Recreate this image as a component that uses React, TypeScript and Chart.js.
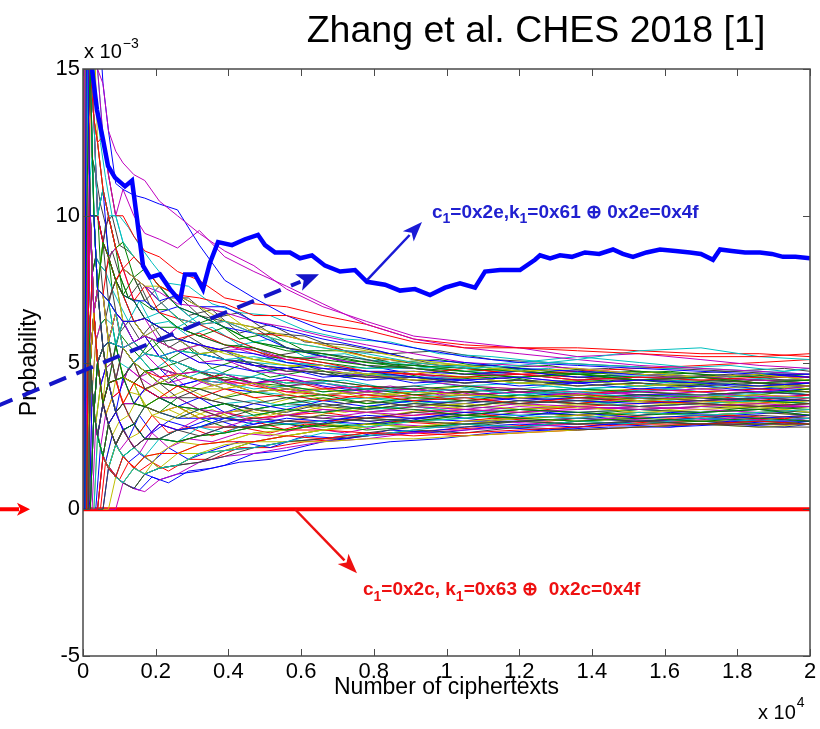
import React, { useEffect, useRef } from "react";
import { Chart, registerables } from "chart.js";

Chart.register(...registerables);

// ---------- data (probability in units of 1e-3, x in ciphertexts) ----------
const xTickValues = [0, 2000, 4000, 6000, 8000, 10000, 12000, 14000, 16000, 18000, 20000];
const yTickValues = [-5, 0, 5, 10, 15];

const sampleN = [0, 50, 100, 150, 200, 300, 400, 550, 700, 900, 1100, 1400, 1700, 2100, 2600, 3200, 3900, 4700, 5600, 6600, 7800, 9100, 10500, 12000, 13600, 15300, 17000, 18600, 20000];
const sampleN2 = [0, 80, 130, 180, 250, 350, 480, 620, 800, 1000, 1250, 1550, 1900, 2350, 2900, 3550, 4300, 5150, 6100, 7200, 8450, 9800, 11250, 12800, 14450, 16150, 17800, 19300, 20000];

// wrong key guesses read at sampleN
const guessB1 = [0, 0, 20, 13.3, 10, 10, 7.5, 7.3, 7.1, 6.7, 6.4, 6.4, 6.5, 6.2, 5.8, 5.6, 5.4, 5.3, 5.0, 4.8, 4.7, 4.5, 4.4, 4.5, 4.3, 4.4, 4.3, 4.2, 4.3];
const guessB2 = [0, 0, 10, 13.3, 15, 10, 7.5, 9.1, 8.6, 7.8, 7.3, 7.1, 6.5, 6.2, 6.2, 5.9, 5.6, 5.5, 5.2, 5.1, 4.9, 4.8, 4.6, 4.5, 4.6, 4.4, 4.5, 4.3, 4.4];
const guessA5 = [0, 0, 0, 6.7, 15, 13.3, 12.5, 10.9, 10, 8.9, 8.2, 8.6, 8.2, 7.6, 7.3, 7.2, 7.0, 6.6, 6.6, 6.3, 6.1, 5.7, 5.5, 5.5, 5.4, 5.3, 5.2, 5.2, 5.3];
const guessA8 = [20, 20, 20, 20, 15, 13.3, 10, 10.9, 10, 10, 9.1, 8.6, 8.2, 7.1, 6.5, 6.3, 6.4, 6.0, 5.7, 5.5, 5.3, 5.0, 4.8, 4.9, 5.1, 5.4, 5.5, 5.2, 5.1];
const guessA1 = [0, 20, 20, 20, 15, 16.7, 15, 14.5, 12.9, 12.2, 11.8, 11.4, 11.2, 10.5, 10.0, 9.4, 8.8, 8.3, 7.5, 6.9, 6.4, 5.9, 5.7, 5.5, 5.2, 5.3, 5.1, 4.9, 4.8];
const guessA6 = [20, 20, 20, 20, 15, 13.3, 12.5, 10.9, 10, 8.9, 8.2, 7.9, 7.6, 7.6, 7.3, 6.9, 6.4, 6.2, 5.9, 5.6, 5.4, 5.1, 4.9, 4.7, 4.8, 4.6, 4.5, 4.6, 4.4];
const guessE1 = [0, 0, 0, 0, 5, 3.3, 2.5, 3.6, 2.9, 2.2, 2.7, 2.1, 2.4, 2.4, 2.7, 2.5, 2.8, 2.8, 3.0, 2.9, 3.1, 3.0, 2.9, 3.0, 2.9, 3.0, 2.9, 2.9, 2.9];
const guessA3 = [20, 20, 20, 20, 20, 20, 17.5, 14.5, 12.9, 11.1, 10.9, 10.7, 10.6, 10.4, 10.2, 9.0, 7.8, 7.2, 6.6, 6.1, 5.8, 5.5, 5.2, 5.0, 4.9, 4.8, 4.7, 4.6, 4.6];
const guessD2 = [0, 0, 0, 6.7, 5, 3.3, 5, 3.6, 4.3, 4.4, 4.5, 3.6, 3.5, 3.8, 3.5, 3.4, 3.6, 3.2, 3.4, 3.3, 3.5, 3.4, 3.2, 3.4, 3.3, 3.2, 3.3, 3.4, 3.2];
const guessE2 = [0, 0, 0, 0, 0, 0, 0, 1.8, 1.4, 1.1, 1.8, 1.4, 1.8, 1.9, 1.9, 2.2, 2.3, 2.3, 2.5, 2.4, 2.6, 2.5, 2.6, 2.7, 2.8, 2.9, 2.9, 3.0, 2.9];
const guessC4 = [0, 0, 10, 20, 15, 10, 7.5, 7.3, 7.1, 6.7, 5.5, 5.7, 5.3, 5.2, 5.0, 4.7, 4.6, 4.5, 4.3, 4.3, 4.1, 4.0, 4.1, 3.9, 4.0, 3.8, 3.9, 3.8, 3.8];
const guessA2 = [0, 0, 0, 13.3, 20, 16.7, 15, 12.7, 11.4, 10, 10.9, 10.0, 9.4, 9.2, 8.9, 9.5, 8.6, 8.1, 7.6, 7.0, 6.3, 5.8, 5.5, 5.3, 5.1, 4.9, 4.8, 4.7, 4.6];
const guessC6 = [0, 20, 10, 13.3, 10, 10, 7.5, 7.3, 5.7, 6.7, 5.5, 5.0, 4.7, 4.3, 4.6, 4.4, 4.1, 4.3, 3.9, 4.1, 3.8, 4.0, 3.9, 3.8, 3.9, 3.7, 3.8, 3.9, 3.8];
const guessD7 = [0, 0, 0, 0, 5, 3.3, 5, 5.5, 4.3, 3.3, 3.6, 2.9, 3.5, 3.3, 3.1, 3.4, 3.1, 3.4, 3.3, 3.6, 3.4, 3.6, 3.5, 3.7, 3.6, 3.5, 3.6, 3.5, 3.6];
const guessA9 = [0, 0, 20, 13.3, 15, 13.3, 12.5, 10.9, 10.0, 8.9, 8.2, 7.9, 7.6, 7.1, 7.3, 6.9, 6.9, 6.4, 6.1, 5.8, 5.5, 5.1, 5.0, 4.8, 4.7, 4.6, 4.5, 4.6, 4.5];
const guessE3 = [0, 0, 0, 0, 0, 3.3, 2.5, 1.8, 2.9, 2.2, 2.7, 2.9, 2.4, 2.4, 2.3, 2.5, 2.6, 2.8, 2.7, 2.9, 3.1, 3.0, 3.2, 3.1, 3.0, 3.1, 3.0, 3.1, 3.0];
const guessB10 = [20, 20, 20, 13.3, 15, 13.3, 10, 9.1, 8.6, 7.8, 8.2, 7.9, 7.6, 6.7, 6.5, 6.3, 5.9, 5.5, 5.2, 5.0, 4.7, 4.6, 4.5, 4.6, 4.4, 4.5, 4.4, 4.5, 4.5];
const guessD11 = [0, 0, 0, 6.7, 5, 3.3, 2.5, 1.8, 1.4, 2.2, 1.8, 2.1, 1.8, 2.4, 2.3, 2.8, 2.6, 3.0, 2.9, 3.0, 2.8, 3.0, 3.1, 3.2, 3.1, 3.3, 3.2, 3.3, 3.4];
const guessB5 = [0, 0, 10, 6.7, 10, 6.7, 7.5, 7.3, 5.7, 6.7, 6.4, 5.7, 5.9, 5.7, 5.4, 5.6, 5.4, 5.5, 5.1, 5.2, 4.9, 4.8, 4.6, 4.6, 4.4, 4.5, 4.5, 4.4, 4.3];
const guessB6 = [0, 0, 0, 0, 5, 6.7, 7.5, 9.1, 8.6, 7.8, 6.4, 6.4, 5.9, 6.2, 5.8, 5.3, 5.4, 5.1, 4.9, 4.9, 4.6, 4.7, 4.5, 4.3, 4.4, 4.2, 4.3, 4.2, 4.2];
const guessC14 = [20, 20, 10, 13.3, 10, 6.7, 7.5, 5.5, 5.7, 4.4, 5.5, 5.0, 4.1, 4.3, 3.8, 4.1, 3.8, 3.6, 3.8, 3.5, 3.7, 3.5, 3.7, 3.6, 3.7, 3.8, 3.7, 3.8, 3.7];
const guessD8 = [0, 0, 0, 0, 0, 3.3, 2.5, 3.6, 2.9, 3.3, 2.7, 2.9, 2.4, 2.9, 2.7, 2.8, 3.1, 2.9, 3.1, 3.0, 3.2, 3.1, 3.3, 3.2, 3.3, 3.1, 3.2, 3.1, 3.2];
const guessA7 = [0, 20, 20, 13.3, 10, 10, 10, 10.9, 10, 8.9, 9.1, 7.9, 8.2, 7.6, 6.9, 6.6, 6.2, 5.7, 5.4, 5.3, 5.0, 4.9, 4.8, 4.7, 4.6, 4.5, 4.5, 4.4, 4.4];
const guessD3 = [0, 0, 10, 6.7, 5, 6.7, 5, 3.6, 4.3, 4.4, 3.6, 4.3, 4.1, 3.8, 4.2, 3.8, 4.1, 3.8, 3.9, 3.7, 3.9, 3.7, 3.8, 3.6, 3.8, 3.7, 3.6, 3.5, 3.6];
const guessB11 = [0, 0, 0, 0, 5, 3.3, 5, 5.5, 5.7, 5.6, 5.5, 5.0, 5.3, 5.2, 5.4, 5.3, 5.1, 5.2, 5.0, 4.9, 4.8, 4.8, 4.9, 5.0, 5.2, 5.0, 4.8, 4.7, 4.6];
const guessD5 = [0, 0, 0, 0, 0, 0, 0, 1.8, 2.9, 2.2, 2.7, 2.1, 2.4, 2.9, 2.7, 3.1, 3.3, 3.0, 3.2, 3.4, 3.3, 3.5, 3.4, 3.6, 3.5, 3.4, 3.5, 3.6, 3.5];
const guessD6 = [0, 0, 10, 13.3, 10, 6.7, 5, 3.6, 5.7, 4.4, 4.5, 4.3, 3.5, 3.3, 3.5, 3.1, 3.3, 3.4, 3.2, 3.5, 3.3, 3.5, 3.6, 3.4, 3.5, 3.3, 3.4, 3.5, 3.3];
const guessB7 = [0, 0, 0, 6.7, 10, 10, 10, 9.1, 7.1, 7.8, 6.4, 6.4, 5.9, 5.7, 5.8, 5.6, 5.1, 5.0, 4.7, 4.7, 4.5, 4.5, 4.3, 4.4, 4.2, 4.3, 4.2, 4.3, 4.2];
const guessD1 = [20, 20, 10, 6.7, 5, 3.3, 5, 3.6, 4.3, 3.3, 4.5, 3.6, 4.1, 3.8, 3.5, 3.8, 3.3, 3.6, 3.4, 3.7, 3.5, 3.7, 3.6, 3.8, 3.7, 3.6, 3.7, 3.8, 3.7];
const guessC9 = [0, 0, 0, 0, 5, 6.7, 5, 5.5, 4.3, 5.6, 4.5, 4.3, 4.7, 4.3, 4.2, 4.1, 3.8, 4.0, 3.8, 3.9, 3.6, 3.8, 3.7, 3.9, 3.8, 3.9, 3.8, 3.9, 4.1];
const guessA4 = [0, 20, 20, 20, 20, 13.3, 12.5, 12.7, 11.4, 10, 10.0, 9.3, 8.8, 8.6, 8.1, 7.8, 7.2, 7.0, 6.9, 6.6, 6.3, 5.8, 5.6, 5.5, 5.5, 5.4, 5.3, 5.3, 5.2];
const guessE4 = [0, 0, 0, 0, 0, 0, 2.5, 1.8, 1.4, 1.1, 0.9, 1.4, 1.2, 1.4, 1.5, 1.9, 2.0, 2.1, 2.3, 2.6, 2.5, 2.7, 2.9, 2.8, 3.0, 2.9, 3.1, 3.0, 3.1];
const guessA10 = [0, 0, 10, 13.3, 10, 10, 10, 9.1, 8.6, 8.9, 8.2, 7.9, 7.6, 7.4, 7.0, 6.9, 6.7, 6.4, 6.2, 5.9, 5.6, 5.3, 5.0, 4.9, 4.8, 4.6, 4.5, 4.6, 4.5];
const guessD13 = [0, 0, 0, 0, 0, 3.3, 2.5, 1.8, 1.4, 2.2, 1.8, 1.4, 1.2, 1.9, 1.9, 2.2, 2.3, 2.6, 2.5, 2.7, 2.9, 2.8, 3.0, 3.1, 3.2, 3.3, 3.2, 3.3, 3.4];
const guessE5 = [0, 0, 0, 0, 0, 0, 0, 0, 1.4, 1.1, 0.9, 0.7, 1.2, 1.4, 1.5, 1.6, 1.8, 2.1, 2.3, 2.4, 2.5, 2.7, 2.6, 2.8, 2.7, 2.8, 2.9, 2.8, 2.8];
const guessB8 = [0, 0, 0, 6.7, 10, 10, 7.5, 5.5, 5.7, 6.7, 6.4, 6.4, 5.9, 6.2, 5.8, 5.3, 5.1, 4.9, 4.8, 4.9, 4.7, 4.7, 4.6, 4.7, 4.5, 4.6, 4.5, 4.6, 4.5];
const guessE6 = [0, 0, 0, 0, 0, 0, 0, 1.8, 1.4, 2.2, 1.8, 2.1, 2.4, 2.4, 2.3, 2.5, 2.6, 2.8, 2.9, 2.8, 2.9, 2.8, 2.9, 3.0, 2.9, 3.0, 2.9, 3.0, 2.9];
const guessB3 = [0, 0, 10, 13.3, 10, 6.7, 7.5, 7.3, 7.1, 7.8, 7.3, 6.4, 6.5, 6.2, 5.8, 6.0, 5.6, 5.4, 5.1, 4.9, 4.7, 4.6, 4.8, 4.6, 4.7, 4.8, 4.9, 5.0, 5.1];
const guessE8 = [0, 0, 0, 0, 5, 3.3, 2.5, 1.8, 1.4, 1.1, 1.8, 2.1, 2.4, 2.4, 2.7, 2.8, 3.1, 3.2, 3.4, 3.3, 3.5, 3.7, 3.8, 3.9, 4.1, 4.2, 4.5, 4.6, 4.8];
const guessC5 = [0, 20, 10, 6.7, 5, 6.7, 5, 5.5, 5.7, 4.4, 5.5, 5.0, 5.3, 4.8, 4.6, 4.7, 4.6, 4.3, 4.4, 4.3, 4.0, 4.1, 3.9, 4.0, 3.9, 4.0, 4.1, 4.0, 4.2];
const guessB13 = [0, 20, 10, 13.3, 10, 10, 7.5, 7.3, 7.1, 6.7, 6.4, 6.4, 5.9, 5.7, 5.4, 5.6, 5.3, 5.1, 4.9, 4.7, 4.6, 4.4, 4.5, 4.3, 4.2, 4.3, 4.1, 4.2, 4.1];
const guessD14 = [0, 0, 0, 0, 0, 3.3, 5, 3.6, 4.3, 4.4, 4.5, 5.0, 4.7, 4.3, 4.2, 3.8, 3.6, 3.4, 3.2, 3.1, 3.0, 3.1, 3.2, 3.1, 3.2, 3.3, 3.2, 3.3, 3.2];
const guessC1 = [0, 0, 20, 13.3, 10, 10, 7.5, 7.3, 7.1, 6.7, 6.4, 5.7, 5.9, 5.2, 5.4, 5.0, 4.9, 4.7, 4.8, 4.5, 4.6, 4.3, 4.4, 4.2, 4.3, 4.1, 4.2, 4.0, 4.1];
const guessC2 = [0, 20, 10, 6.7, 5, 6.7, 7.5, 5.5, 5.7, 5.6, 4.5, 5.0, 4.7, 4.8, 4.6, 4.4, 4.5, 4.3, 4.2, 4.0, 4.1, 3.9, 4.0, 3.8, 3.9, 3.7, 3.8, 3.7, 3.6];
const guessC3 = [0, 0, 10, 6.7, 5, 6.7, 5, 3.6, 4.3, 4.4, 4.5, 4.3, 4.7, 4.5, 4.6, 4.4, 4.6, 4.3, 4.4, 4.1, 4.2, 3.9, 4.0, 3.8, 3.9, 3.8, 3.9, 3.7, 3.9];
const guessB4 = [0, 0, 10, 20, 15, 10, 7.5, 7.3, 7.1, 5.6, 6.4, 5.7, 5.9, 5.7, 5.8, 5.3, 5.1, 5.0, 4.9, 4.7, 4.6, 4.5, 4.5, 4.3, 4.4, 4.2, 4.3, 4.2, 4.1];
const guessB12 = [0, 20, 10, 6.7, 5, 6.7, 5, 5.5, 5.7, 5.6, 5.5, 5.7, 5.9, 5.2, 5.4, 5.0, 5.1, 4.9, 4.7, 4.8, 4.5, 4.6, 4.4, 4.5, 4.3, 4.4, 4.5, 4.4, 4.4];
const guessC13 = [0, 0, 10, 6.7, 10, 6.7, 5, 5.5, 4.3, 4.4, 3.6, 4.3, 4.1, 4.3, 4.2, 4.1, 4.3, 4.0, 4.1, 3.9, 4.0, 3.8, 3.9, 3.8, 3.7, 3.8, 3.7, 3.6, 3.7];
const guessC7 = [0, 0, 0, 6.7, 10, 10, 10, 9.1, 8.6, 7.8, 7.3, 6.4, 5.9, 5.2, 5.0, 4.7, 4.4, 4.5, 4.2, 4.3, 4.1, 4.2, 4.0, 4.1, 3.9, 4.0, 3.9, 4.0, 3.9];
const guessC8 = [0, 0, 0, 0, 5, 6.7, 5, 5.5, 5.7, 5.6, 5.5, 5.0, 4.7, 4.3, 4.2, 4.4, 4.1, 4.0, 4.1, 3.9, 4.0, 3.8, 3.9, 3.7, 3.8, 3.7, 3.8, 3.7, 3.7];
const guessB9 = [0, 20, 10, 6.7, 10, 6.7, 5, 5.5, 5.7, 5.6, 6.4, 5.7, 5.3, 5.7, 5.4, 5.3, 5.4, 5.1, 5.2, 5.0, 4.8, 4.9, 4.7, 4.8, 4.6, 4.7, 4.6, 4.5, 4.6];
const guessC10 = [0, 0, 0, 6.7, 5, 3.3, 5, 5.5, 5.7, 5.6, 5.5, 5.7, 5.3, 5.2, 4.6, 4.7, 4.4, 4.2, 4.0, 3.9, 3.8, 3.9, 3.7, 3.8, 3.6, 3.8, 3.7, 3.8, 3.7];
const guessC11 = [0, 0, 10, 6.7, 5, 6.7, 7.5, 5.5, 4.3, 4.4, 4.5, 5.0, 4.7, 4.3, 4.6, 4.4, 4.3, 4.1, 4.2, 4.0, 4.1, 3.9, 3.8, 3.9, 3.7, 3.8, 3.6, 3.7, 3.6];
const guessC12 = [0, 0, 0, 6.7, 5, 6.7, 5, 5.5, 5.7, 6.7, 5.5, 5.7, 5.3, 4.8, 4.6, 4.4, 4.3, 4.3, 4.0, 4.1, 3.9, 3.8, 3.9, 3.8, 3.9, 3.8, 3.7, 3.8, 3.8];
const guessE10 = [0, 0, 0, 0, 0, 0, 0, 1.8, 1.4, 1.1, 0.9, 1.4, 1.8, 1.4, 1.5, 1.9, 2.2, 2.3, 2.5, 2.7, 2.8, 3.0, 2.9, 3.1, 3.0, 3.1, 3.2, 3.1, 3.2];
const guessB14 = [20, 20, 10, 13.3, 10, 6.7, 7.5, 7.3, 5.7, 6.7, 5.5, 5.7, 5.3, 5.2, 5.0, 5.3, 5.1, 4.9, 4.8, 4.6, 4.5, 4.4, 4.3, 4.4, 4.3, 4.4, 4.4, 4.3, 4.3];
const guessB15 = [0, 0, 10, 6.7, 10, 10, 10, 9.1, 8.6, 7.8, 7.3, 7.1, 6.5, 6.2, 5.8, 5.6, 5.4, 4.9, 4.8, 4.6, 4.4, 4.5, 4.3, 4.4, 4.2, 4.3, 4.1, 4.2, 4.3];
const guessC16 = [0, 0, 10, 13.3, 10, 6.7, 7.5, 7.3, 7.1, 5.6, 5.5, 5.0, 4.7, 4.8, 5.0, 4.7, 4.4, 4.5, 4.3, 4.4, 4.2, 4.1, 4.2, 4.0, 4.1, 4.0, 3.9, 4.0, 4.0];
const guessC17 = [20, 20, 10, 6.7, 5, 3.3, 5, 5.5, 4.3, 4.4, 4.5, 4.3, 4.1, 4.3, 4.6, 4.4, 4.3, 4.0, 4.1, 3.9, 4.0, 4.1, 3.9, 4.0, 3.9, 4.1, 4.0, 4.1, 4.0];
const guessC18 = [0, 0, 0, 0, 0, 3.3, 5, 5.5, 5.7, 5.6, 5.5, 5.0, 5.3, 4.8, 4.6, 4.7, 4.3, 4.0, 3.9, 3.7, 3.8, 3.6, 3.7, 3.6, 3.7, 3.5, 3.6, 3.5, 3.6];
const guessD12 = [0, 0, 0, 0, 5, 3.3, 2.5, 3.6, 4.3, 4.4, 3.6, 3.6, 4.1, 3.8, 3.8, 3.4, 3.3, 3.4, 3.2, 3.1, 3.3, 3.2, 3.4, 3.3, 3.4, 3.5, 3.4, 3.3, 3.4];
const guessE7 = [0, 0, 0, 0, 0, 0, 0, 0, 0, 1.1, 0.9, 1.4, 1.2, 1.4, 1.9, 1.9, 2.0, 2.3, 2.3, 2.3, 2.4, 2.4, 2.5, 2.6, 2.7, 2.8, 2.9, 2.8, 2.9];
const guessD15 = [0, 0, 0, 0, 5, 3.3, 2.5, 1.8, 2.9, 2.2, 2.7, 2.9, 2.4, 2.4, 2.7, 2.8, 3.0, 3.1, 3.0, 3.2, 3.1, 3.3, 3.2, 3.4, 3.3, 3.4, 3.3, 3.4, 3.3];
const guessC15 = [0, 0, 0, 6.7, 5, 6.7, 5, 5.5, 4.3, 4.4, 4.5, 4.3, 4.7, 4.8, 4.2, 4.4, 4.6, 4.3, 4.5, 4.2, 4.0, 4.1, 3.9, 4.0, 3.8, 3.9, 3.9, 4.0, 3.9];
const guessD9 = [0, 0, 10, 6.7, 5, 3.3, 2.5, 3.6, 2.9, 3.3, 3.6, 3.6, 3.5, 3.3, 3.8, 3.4, 3.6, 3.4, 3.6, 3.8, 3.6, 3.7, 3.5, 3.7, 3.6, 3.7, 3.6, 3.7, 3.6];
const guessD10 = [0, 0, 0, 0, 5, 6.7, 5, 3.6, 2.9, 3.3, 3.6, 3.6, 3.5, 3.3, 3.5, 3.1, 3.3, 3.1, 3.2, 3.3, 3.1, 3.2, 3.3, 3.1, 3.2, 3.3, 3.2, 3.1, 3.2];
const guessD4 = [0, 0, 0, 6.7, 5, 3.3, 2.5, 3.6, 4.3, 3.3, 3.6, 3.6, 4.1, 3.8, 3.5, 3.4, 3.6, 3.7, 3.5, 3.6, 3.4, 3.5, 3.3, 3.4, 3.3, 3.4, 3.3, 3.4, 3.3];
const guessE9 = [0, 0, 0, 0, 0, 0, 0, 0, 0, 0, 0.9, 0.7, 0.6, 1.0, 1.2, 1.6, 1.8, 1.9, 2.1, 2.3, 2.4, 2.6, 2.7, 2.8, 2.9, 3.0, 2.9, 3.0, 3.1];
const guessF1 = [0, 20, 20, 20, 20, 16.7, 12.5, 10.9, 10, 8.9, 9.1, 8.6, 8.2, 7.6, 7.3, 6.9, 6.7, 6.0, 5.7, 5.5, 5.2, 5.0, 4.9, 4.7, 4.6, 4.7, 4.5, 4.6, 4.5];
const guessF2 = [20, 20, 10, 13.3, 15, 10, 10, 9.1, 10, 8.9, 8.2, 7.9, 7.1, 7.6, 7.3, 6.6, 6.4, 6.2, 5.5, 5.3, 5.1, 4.8, 4.6, 4.7, 4.5, 4.4, 4.3, 4.4, 4.3];
const guessF3 = [0, 0, 20, 20, 15, 13.3, 10, 10.9, 8.6, 7.8, 7.3, 7.1, 7.1, 6.7, 6.9, 6.6, 6.2, 6.0, 5.5, 5.2, 4.9, 4.6, 4.5, 4.3, 4.4, 4.2, 4.3, 4.1, 4.2];
const guessF4 = [0, 20, 20, 13.3, 15, 10, 7.5, 9.1, 8.6, 8.9, 7.3, 7.9, 7.1, 6.7, 6.2, 5.9, 6.2, 5.7, 5.5, 5.2, 5.0, 4.8, 4.7, 4.5, 4.6, 4.4, 4.5, 4.4, 4.3];
const guessF5 = [0, 0, 0, 0, 5, 6.7, 7.5, 7.3, 8.6, 7.8, 8.2, 7.1, 7.6, 7.1, 6.5, 6.3, 6.4, 6.0, 5.9, 5.6, 5.2, 5.0, 4.8, 4.6, 4.5, 4.4, 4.5, 4.3, 4.2];
const guessF6 = [20, 20, 20, 13.3, 10, 10, 7.5, 7.3, 7.1, 7.8, 7.3, 6.4, 6.5, 6.7, 6.2, 6.6, 6.2, 5.7, 5.5, 5.3, 5.1, 4.9, 4.7, 4.6, 4.4, 4.5, 4.3, 4.2, 4.3];
const guessF7 = [0, 0, 10, 6.7, 5, 3.3, 5, 5.5, 4.3, 5.6, 6.4, 6.4, 6.5, 5.7, 6.2, 5.9, 5.6, 5.3, 5.1, 4.9, 4.6, 4.4, 4.2, 4.1, 4.0, 3.9, 4.0, 3.8, 3.9];
const guessF8 = [0, 0, 0, 0, 0, 0, 2.5, 1.8, 2.9, 2.2, 1.8, 2.1, 1.8, 1.9, 2.3, 2.2, 2.3, 2.6, 2.7, 2.9, 2.8, 3.0, 3.2, 3.1, 3.2, 3.1, 3.2, 3.3, 3.2];
const guessF9 = [0, 0, 0, 0, 0, 3.3, 2.5, 1.8, 1.4, 1.1, 1.8, 1.4, 1.8, 1.4, 1.5, 1.6, 2.0, 2.1, 2.3, 2.4, 2.6, 2.8, 2.8, 3.0, 3.1, 3.0, 3.1, 3.2, 3.1];
const guessF10 = [0, 0, 0, 0, 0, 0, 0, 0, 1.4, 1.1, 0.9, 1.4, 1.2, 1.0, 1.2, 1.3, 1.5, 1.9, 2.0, 2.3, 2.5, 2.6, 2.8, 2.9, 2.8, 3.0, 3.1, 3.0, 3.0];
const guessF11 = [0, 0, 0, 6.7, 5, 3.3, 2.5, 1.8, 1.4, 1.1, 0.9, 0.7, 1.2, 1.4, 1.5, 1.9, 2.0, 2.3, 2.5, 2.7, 2.9, 3.0, 3.1, 3.3, 3.2, 3.4, 3.3, 3.5, 3.4];
const guessF12 = [0, 0, 0, 0, 5, 3.3, 2.5, 1.8, 1.4, 2.2, 2.7, 2.1, 2.4, 2.9, 2.7, 2.8, 2.8, 2.8, 3.0, 3.0, 3.1, 3.3, 3.4, 3.3, 3.5, 3.6, 3.7, 3.6, 3.8];
const guessF13 = [0, 20, 10, 6.7, 5, 3.3, 2.5, 1.8, 2.9, 2.2, 2.7, 2.9, 3.5, 3.3, 3.1, 3.4, 3.6, 3.4, 3.6, 3.7, 3.8, 3.7, 3.9, 4.0, 4.1, 4.0, 4.2, 4.1, 4.2];
const guessF14 = [0, 0, 10, 6.7, 10, 6.7, 5, 3.6, 2.9, 3.3, 2.7, 2.9, 2.4, 2.4, 2.3, 2.5, 2.8, 3.1, 3.2, 3.4, 3.3, 3.4, 3.3, 3.5, 3.4, 3.5, 3.6, 3.5, 3.5];
const guessF15 = [20, 20, 10, 6.7, 5, 3.3, 2.5, 3.6, 2.9, 2.2, 2.7, 2.9, 3.5, 3.8, 4.2, 4.1, 4.1, 4.3, 4.1, 4.1, 3.9, 4.0, 4.2, 4.1, 4.0, 4.1, 4.0, 4.1, 4.0];
const guessF16 = [0, 0, 0, 0, 5, 3.3, 5, 5.5, 4.3, 4.4, 4.5, 4.3, 4.1, 3.8, 3.8, 3.8, 3.6, 3.4, 3.6, 3.5, 3.4, 3.6, 3.5, 3.4, 3.5, 3.4, 3.5, 3.4, 3.5];
const guessF17 = [0, 20, 20, 13.3, 10, 6.7, 5, 5.5, 4.3, 3.3, 3.6, 3.6, 3.5, 3.3, 3.1, 3.1, 3.1, 3.0, 2.9, 3.0, 2.9, 3.1, 3.0, 3.0, 3.1, 3.0, 3.1, 3.0, 3.1];
const guessF18 = [0, 0, 10, 13.3, 10, 10, 7.5, 7.3, 5.7, 4.4, 4.5, 4.3, 3.5, 3.8, 3.5, 3.1, 2.8, 2.8, 2.7, 2.9, 2.7, 2.8, 2.9, 2.8, 3.0, 2.9, 3.0, 2.9, 3.0];
const guessF19 = [0, 0, 0, 6.7, 10, 6.7, 7.5, 7.3, 7.1, 6.7, 5.5, 5.0, 4.1, 3.8, 3.5, 3.4, 3.1, 3.0, 2.7, 2.7, 2.6, 2.6, 2.5, 2.6, 2.7, 2.8, 2.9, 2.9, 2.9];
const guessF20 = [0, 0, 10, 13.3, 15, 16.7, 15, 12.7, 11.4, 10, 9.1, 8.6, 8.2, 7.6, 6.9, 6.3, 5.9, 5.5, 5.0, 4.9, 4.6, 4.4, 4.2, 4.3, 4.1, 4.2, 4.0, 4.1, 4.0];
const guessF21 = [0, 20, 20, 20, 15, 13.3, 10, 9.1, 10, 8.9, 8.2, 7.1, 6.5, 6.2, 5.8, 5.3, 5.1, 4.7, 4.6, 4.4, 4.2, 4.1, 3.9, 4.0, 3.8, 3.9, 3.8, 3.9, 3.8];

// further wrong key guesses read at sampleN2
const guessG1 = [0, 12.5, 15.4, 11.1, 12, 8.6, 8.3, 8.1, 7.5, 7, 6.4, 7.1, 6.3, 6.4, 5.9, 6.2, 5.6, 5.8, 5.2, 5.3, 4.9, 5.0, 4.7, 4.8, 4.5, 4.6, 4.4, 4.5, 4.4];
const guessG2 = [0, 0, 7.7, 11.1, 8, 5.7, 6.3, 4.8, 5, 4, 4.8, 4.5, 4.7, 4.3, 4.5, 4.2, 4.4, 4.1, 4.3, 4.0, 4.2, 3.9, 4.1, 3.9, 4.0, 3.8, 3.9, 3.8, 3.9];
const guessG3 = [0, 0, 0, 5.6, 4, 2.9, 4.2, 3.2, 3.8, 3, 3.2, 3.9, 3.2, 3.4, 3.1, 3.4, 3.0, 3.3, 3.1, 3.4, 3.2, 3.5, 3.3, 3.5, 3.4, 3.6, 3.5, 3.4, 3.5];
const guessG4 = [25, 25, 15.4, 16.7, 12, 11.4, 10.4, 9.7, 10, 9, 8.8, 8.4, 7.9, 7.2, 7.2, 6.5, 6.7, 6.0, 5.9, 5.4, 5.3, 4.9, 4.9, 4.6, 4.7, 4.5, 4.6, 4.4, 4.4];
const guessG5 = [0, 0, 0, 0, 4, 2.9, 2.1, 1.6, 2.5, 2, 1.6, 1.9, 1.6, 2.1, 1.7, 2.0, 2.3, 2.1, 2.5, 2.4, 2.7, 2.6, 2.8, 2.7, 2.9, 2.8, 3.0, 2.9, 3.0];
const guessG6 = [0, 12.5, 7.7, 11.1, 8, 8.6, 6.3, 6.5, 5, 6, 5.6, 5.2, 5.8, 5.1, 5.5, 4.8, 5.1, 4.7, 4.9, 4.5, 4.7, 4.4, 4.6, 4.3, 4.5, 4.3, 4.4, 4.2, 4.3];
const guessG7 = [0, 0, 7.7, 5.6, 8, 5.7, 4.2, 3.2, 3.8, 4, 3.2, 2.6, 3.2, 2.6, 2.8, 2.5, 2.8, 2.6, 2.9, 2.8, 3.0, 2.9, 3.1, 3.0, 3.2, 3.1, 3.2, 3.1, 3.2];
const guessG8 = [0, 25, 23, 16.7, 16, 14.3, 12.5, 11.3, 10, 10, 9.6, 9.0, 8.4, 7.7, 7.6, 7.0, 6.7, 6.6, 6.1, 5.8, 5.7, 5.3, 5.2, 5.0, 4.9, 4.8, 4.9, 4.7, 4.8];
const guessG9 = [0, 0, 0, 0, 0, 2.9, 2.1, 3.2, 2.5, 2, 2.4, 1.9, 2.6, 2.1, 2.4, 2.3, 2.6, 2.5, 2.8, 2.6, 2.9, 2.8, 3.0, 2.9, 3.1, 3.0, 3.1, 3.0, 3.1];
const guessG10 = [0, 0, 7.7, 5.6, 4, 5.7, 6.3, 4.8, 3.8, 5, 4.0, 3.9, 4.2, 3.8, 4.1, 3.7, 4.0, 3.6, 3.9, 3.6, 3.8, 3.5, 3.7, 3.5, 3.6, 3.4, 3.6, 3.5, 3.6];
const guessG11 = [12.5, 12.5, 15.4, 11.1, 8, 8.6, 8.3, 6.5, 7.5, 6, 6.4, 5.8, 6.3, 5.5, 5.9, 5.4, 5.6, 5.2, 5.4, 5.0, 5.1, 4.8, 4.9, 4.7, 4.8, 4.6, 4.7, 4.6, 4.6];
const guessG12 = [0, 0, 0, 5.6, 8, 5.7, 4.2, 4.8, 3.8, 3, 2.4, 3.2, 2.6, 3.0, 2.8, 3.1, 2.8, 3.0, 2.8, 3.1, 2.9, 3.2, 3.0, 3.3, 3.1, 3.3, 3.2, 3.3, 3.2];
const guessG13 = [0, 12.5, 15.4, 16.7, 12, 11.4, 8.3, 9.7, 7.5, 8, 7.2, 7.1, 6.8, 6.8, 6.2, 6.5, 5.8, 6.0, 5.4, 5.4, 5.0, 5.1, 4.8, 4.9, 4.6, 4.7, 4.5, 4.6, 4.5];
const guessG14 = [0, 0, 0, 0, 0, 0, 0, 1.6, 1.3, 1, 1.6, 1.3, 1.6, 1.3, 1.7, 1.7, 2.1, 2.1, 2.3, 2.4, 2.6, 2.7, 2.8, 2.9, 2.9, 3.0, 3.0, 3.1, 3.0];
const guessG15 = [0, 0, 7.7, 11.1, 8, 5.7, 6.3, 6.5, 6.3, 5, 4.8, 5.2, 4.7, 5.1, 4.5, 4.8, 4.4, 4.7, 4.3, 4.4, 4.1, 4.3, 4.0, 4.2, 4.0, 4.1, 3.9, 4.0, 3.9];
const guessG16 = [0, 0, 0, 0, 4, 5.7, 4.2, 4.8, 3.8, 4, 4.8, 4.5, 4.2, 4.7, 4.1, 4.5, 4.2, 4.4, 4.0, 4.2, 3.9, 4.1, 3.8, 4.0, 3.8, 3.9, 3.7, 3.8, 3.8];
const guessG17 = [0, 0, 0, 5.6, 4, 2.9, 2.1, 1.6, 2.5, 3, 2.4, 2.6, 3.2, 3.0, 3.4, 3.1, 3.4, 3.2, 3.5, 3.3, 3.6, 3.4, 3.6, 3.5, 3.7, 3.6, 3.7, 3.6, 3.7];
const guessG18 = [0, 12.5, 7.7, 5.6, 8, 8.6, 8.3, 8.1, 8.8, 8, 7.2, 7.7, 6.8, 7.2, 6.6, 6.8, 6.0, 6.3, 5.7, 5.6, 5.3, 5.4, 5.1, 5.0, 4.9, 4.8, 4.7, 4.8, 4.7];
const guessG19 = [0, 0, 0, 0, 0, 0, 2.1, 1.6, 1.3, 1, 0.8, 0.65, 1.1, 0.9, 1.3, 1.4, 1.6, 1.7, 2.0, 2.1, 2.3, 2.4, 2.6, 2.7, 2.8, 2.8, 2.9, 2.8, 2.9];
const guessG20 = [0, 0, 7.7, 5.6, 4, 2.9, 4.2, 4.8, 5, 4, 4.8, 5.2, 4.7, 4.3, 4.8, 4.5, 4.9, 4.5, 4.7, 4.5, 4.6, 4.4, 4.5, 4.3, 4.4, 4.2, 4.3, 4.1, 4.2];

const wrongGuesses = [
  guessB1, guessB2, guessA5, guessA8, guessA1, guessA6, guessE1,
  guessA3, guessD2, guessE2, guessC4, guessA2, guessC6, guessD7,
  guessA9, guessE3, guessB10, guessD11, guessB5, guessB6, guessC14,
  guessD8, guessA7, guessD3, guessB11, guessD5, guessD6, guessB7,
  guessD1, guessC9, guessA4, guessE4, guessA10, guessD13, guessE5,
  guessB8, guessE6, guessB3, guessE8, guessC5, guessB13, guessD14,
  guessC1, guessC2, guessC3, guessB4, guessB12, guessC13, guessC7,
  guessC8, guessB9, guessC10, guessC11, guessC12, guessE10, guessB14,
  guessB15, guessC16, guessC17, guessC18, guessD12, guessE7, guessD15,
  guessC15, guessD9, guessD10, guessD4, guessE9, guessF1, guessF2,
  guessF3, guessF4, guessF5, guessF6, guessF7, guessF8, guessF9,
  guessF10, guessF11, guessF12, guessF13, guessF14, guessF15, guessF16,
  guessF17, guessF18, guessF19, guessF20, guessF21,
];
const wrongGuesses2 = [
  guessG1, guessG2, guessG3, guessG4, guessG5, guessG6, guessG7,
  guessG8, guessG9, guessG10, guessG11, guessG12, guessG13, guessG14,
  guessG15, guessG16, guessG17, guessG18, guessG19, guessG20,
];

// correct key guess (thick blue)
const correctN = [138, 248, 385, 550, 688, 880, 1155, 1348, 1486, 1651, 1843, 2118, 2393, 2669, 2806, 3081, 3301, 3494, 3714, 4099, 4457, 4814, 5007, 5282, 5695, 5970, 6300, 6657, 7070, 7483, 7813, 8308, 8721, 9133, 9546, 9959, 10372, 10785, 11059, 11472, 12022, 12435, 12572, 12850, 13122, 13450, 13810, 14200, 14580, 14850, 15130, 15500, 15873, 16300, 16698, 17000, 17331, 17524, 17850, 18212, 18624, 18950, 19257, 19600, 20000];
const correctP = [20, 15, 13.6, 12.6, 11.7, 11.3, 11.0, 11.2, 9.9, 8.3, 7.9, 8.0, 7.5, 7.1, 8.0, 8.0, 7.5, 8.4, 9.1, 9.0, 9.2, 9.35, 9.0, 8.75, 8.75, 8.55, 8.65, 8.3, 8.1, 8.15, 7.75, 7.65, 7.45, 7.5, 7.3, 7.55, 7.7, 7.55, 8.1, 8.15, 8.15, 8.5, 8.65, 8.55, 8.65, 8.6, 8.75, 8.7, 8.85, 8.7, 8.6, 8.75, 8.85, 8.8, 8.75, 8.7, 8.5, 8.85, 8.8, 8.75, 8.75, 8.7, 8.6, 8.6, 8.55];

// zero-probability guess (thick red)
const zeroN = [0, 20000];
const zeroP = [0, 0];

const titleText = "Zhang et al. CHES 2018 [1]";
const xLabelText = "Number of ciphertexts";
const yLabelText = "Probability";
const blueNoteParts: [string, boolean][] = [["c", false], ["1", true], ["=0x2e,k", false], ["1", true], ["=0x61 \u2295 0x2e=0x4f", false]];
const redNoteParts: [string, boolean][] = [["c", false], ["1", true], ["=0x2c, k", false], ["1", true], ["=0x63 \u2295  0x2c=0x4f", false]];

// annotation anchors in data units [n, p]
const dashedArrowFrom = [-2400, 3.5];
const dashedArrowTo = [6492, 8.01];
const blueArrowFrom = [7813, 7.81];
const blueArrowTo = [9326, 9.79];
const blueNoteAt = [9601, 10.1];
const redArrowFrom = [5832, 0];
const redArrowTo = [7538, -2.18];
const redNoteAt = [7703, -2.76];
const sideArrowFrom = [-2300, 0];
const sideArrowTo = [-1458, 0];

// ---------- styling ----------
const W = 820;
const H = 729;
const FONT = "'Liberation Sans', Arial, Helvetica, sans-serif";
const matlabColors = ["#0000ff", "#008000", "#ff0000", "#00bfbf", "#bf00bf", "#bfbf00", "#404040"];

function arrow(ctx: CanvasRenderingContext2D, x1: number, y1: number, x2: number, y2: number, color: string, lw: number, headLen: number, headW: number, dash?: number[]) {
  const dx = x2 - x1, dy = y2 - y1;
  const len = Math.hypot(dx, dy);
  const ux = dx / len, uy = dy / len;
  const bx = x2 - ux * headLen, by = y2 - uy * headLen;
  ctx.save();
  ctx.strokeStyle = color;
  ctx.fillStyle = color;
  ctx.lineWidth = lw;
  ctx.setLineDash(dash || []);
  ctx.beginPath();
  ctx.moveTo(x1, y1);
  ctx.lineTo(bx + ux * 2, by + uy * 2);
  ctx.stroke();
  ctx.setLineDash([]);
  ctx.beginPath();
  ctx.moveTo(x2, y2);
  ctx.lineTo(bx - uy * headW / 2, by + ux * headW / 2);
  ctx.lineTo(bx + ux * headLen * 0.25, by + uy * headLen * 0.25);
  ctx.lineTo(bx + uy * headW / 2, by - ux * headW / 2);
  ctx.closePath();
  ctx.fill();
  ctx.restore();
}

function richText(ctx: CanvasRenderingContext2D, parts: [string, boolean][], x: number, y: number, color: string, size: number) {
  ctx.save();
  ctx.fillStyle = color;
  ctx.textBaseline = "middle";
  ctx.textAlign = "left";
  let cx = x;
  for (const [t, sub] of parts) {
    if (sub) {
      ctx.font = `bold ${Math.round(size * 0.72)}px ${FONT}`;
      ctx.fillText(t, cx, y + size * 0.35);
    } else {
      ctx.font = `bold ${size}px ${FONT}`;
      ctx.fillText(t, cx, y);
    }
    cx += ctx.measureText(t).width;
  }
  ctx.restore();
}

const decorPlugin = {
  id: "decor",
  afterDatasetsDraw(chart: any) {
    const ctx: CanvasRenderingContext2D = chart.ctx;
    const { left, right, top, bottom } = chart.chartArea;
    const xs = chart.scales.x;
    const ys = chart.scales.y;
    ctx.save();
    ctx.strokeStyle = "#4a4a4a";
    ctx.lineWidth = 1.5;
    ctx.strokeRect(left, top, right - left, bottom - top);
    ctx.lineWidth = 1;
    ctx.beginPath();
    for (const v of xTickValues) {
      const px = Math.round(xs.getPixelForValue(v)) + 0.5;
      ctx.moveTo(px, bottom); ctx.lineTo(px, bottom - 7);
      ctx.moveTo(px, top); ctx.lineTo(px, top + 7);
    }
    for (const v of yTickValues) {
      const py = Math.round(ys.getPixelForValue(v)) + 0.5;
      ctx.moveTo(left, py); ctx.lineTo(left + 7, py);
      ctx.moveTo(right, py); ctx.lineTo(right - 7, py);
    }
    ctx.stroke();
    ctx.restore();
  },
  afterDraw(chart: any) {
    const ctx: CanvasRenderingContext2D = chart.ctx;
    const xs = chart.scales.x;
    const ys = chart.scales.y;
    const P = (p: number[]) => [xs.getPixelForValue(p[0]), ys.getPixelForValue(p[1])];
    const { left, right, top, bottom } = chart.chartArea;

    ctx.save();
    ctx.fillStyle = "#000";
    ctx.textAlign = "center";
    ctx.textBaseline = "alphabetic";
    ctx.font = `37.5px ${FONT}`;
    ctx.fillText(titleText, 536, 42);

    ctx.font = `23px ${FONT}`;
    ctx.textBaseline = "middle";
    ctx.fillText(xLabelText, (left + right) / 2, 688);

    ctx.save();
    ctx.translate(30, (top + bottom) / 2);
    ctx.rotate(-Math.PI / 2);
    ctx.fillText(yLabelText, 0, 0);
    ctx.restore();

    ctx.textAlign = "left";
    ctx.textBaseline = "alphabetic";
    ctx.font = `20px ${FONT}`;
    ctx.fillText("x 10", 84, 58);
    let w = ctx.measureText("x 10").width;
    ctx.font = `14px ${FONT}`;
    ctx.fillText("\u22123", 84 + w + 1, 48);

    ctx.font = `20px ${FONT}`;
    ctx.fillText("x 10", 758, 719);
    w = ctx.measureText("x 10").width;
    ctx.font = `14px ${FONT}`;
    ctx.fillText("4", 758 + w + 1, 707);
    ctx.restore();

    const dA = P(dashedArrowFrom), dB = P(dashedArrowTo);
    arrow(ctx, dA[0], dA[1], dB[0], dB[1], "#1414c8", 4, 22, 18, [18, 11]);
    const bA = P(blueArrowFrom), bB = P(blueArrowTo);
    arrow(ctx, bA[0], bA[1], bB[0], bB[1], "#1a1ad6", 2.5, 20, 15);
    const bN = P(blueNoteAt);
    richText(ctx, blueNoteParts, bN[0], bN[1], "#2020d0", 19);

    const rA = P(redArrowFrom), rB = P(redArrowTo);
    arrow(ctx, rA[0], rA[1], rB[0], rB[1], "#ee1111", 2.5, 20, 15);
    const rN = P(redNoteAt);
    richText(ctx, redNoteParts, rN[0], rN[1], "#ee1111", 19);

    const sA = P(sideArrowFrom), sB = P(sideArrowTo);
    arrow(ctx, sA[0], sA[1], sB[0], sB[1], "#ff0000", 4, 13, 13);
  },
};

export default function App() {
  const ref = useRef<HTMLCanvasElement | null>(null);
  useEffect(() => {
    if (!ref.current) return;
    const thin = (xs: number[], vals: number[], i: number) => ({
      data: xs.map((n, j) => ({ x: n, y: vals[j] })),
      borderColor: matlabColors[i % matlabColors.length],
      borderWidth: 1,
      pointRadius: 0,
      tension: 0,
      fill: false,
      order: 1,
    });
    const thinSets = [
      ...wrongGuesses.map((vals, i) => thin(sampleN, vals, i)),
      ...wrongGuesses2.map((vals, i) => thin(sampleN2, vals, i + 3)),
    ];
    const chart = new Chart(ref.current, {
      type: "line",
      data: {
        datasets: [
          {
            data: correctN.map((n, j) => ({ x: n, y: correctP[j] })),
            borderColor: "#0000ff",
            borderWidth: 4.5,
            pointRadius: 0,
            tension: 0,
            fill: false,
            order: 0,
          },
          ...thinSets,
          {
            data: zeroN.map((n, j) => ({ x: n, y: zeroP[j] })),
            borderColor: "#ff0000",
            borderWidth: 4,
            pointRadius: 0,
            tension: 0,
            fill: false,
            order: 2,
          },
        ],
      },
      options: {
        responsive: false,
        animation: false,
        devicePixelRatio: 1,
        events: [],
        layout: { padding: { top: 69, right: 10, left: 0, bottom: 0 } },
        plugins: { legend: { display: false }, title: { display: false }, tooltip: { enabled: false } },
        scales: {
          x: {
            type: "linear",
            min: 0,
            max: 20000,
            grid: { display: false, drawTicks: false },
            border: { display: false },
            afterFit: (s: any) => { s.height = H - 656; },
            afterBuildTicks: (s: any) => { s.ticks = xTickValues.map((v) => ({ value: v })); },
            ticks: {
              autoSkip: false,
              maxRotation: 0,
              padding: 3,
              color: "#000",
              font: { family: FONT, size: 22 },
              callback: (v: any) => String(Number(v) / 10000),
            },
          },
          y: {
            type: "linear",
            min: -5,
            max: 15,
            grid: { display: false, drawTicks: false },
            border: { display: false },
            afterFit: (s: any) => { s.width = 83; },
            afterBuildTicks: (s: any) => { s.ticks = yTickValues.map((v) => ({ value: v })); },
            ticks: {
              padding: 3,
              color: "#000",
              font: { family: FONT, size: 22 },
              callback: (v: any) => String(v),
            },
          },
        },
      },
      plugins: [decorPlugin],
    });
    return () => chart.destroy();
  }, []);
  return (
    <div style={{ position: "fixed", left: 0, top: 0, width: W, height: H, background: "#fff" }}>
      <canvas ref={ref} width={W} height={H} style={{ width: W, height: H, display: "block" }} />
    </div>
  );
}
